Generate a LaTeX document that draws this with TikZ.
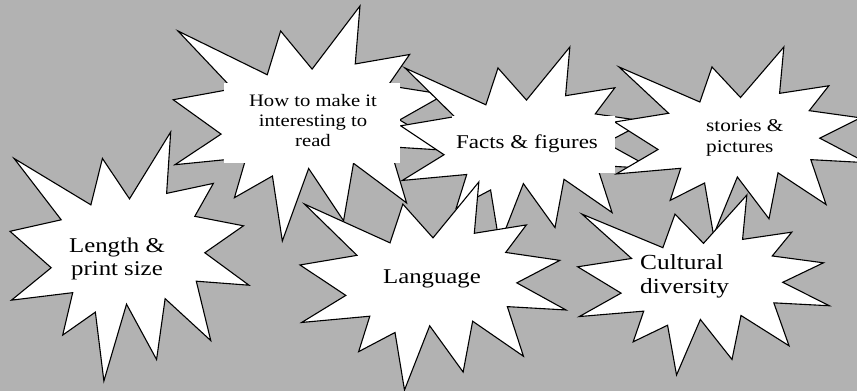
\documentclass[tikz,border=0pt]{standalone}
\usepackage{fontspec}
\setmainfont{Liberation Serif}
\usepackage{graphicx}
\definecolor{bggray}{RGB}{178,178,178}
\tikzset{
  sealstyle/.style={fill=white,draw=black,line width=1.1pt,line join=miter},
  lbl/.style={inner sep=0pt,text=black}
}
\newcommand\sealshape[4]{%
  \begin{scope}[shift={(#1,#2)},xscale=#3/100,yscale=#4/100]
    \draw[sealstyle] (50,26.852) -- (67.231,0) -- (65.532,24.653) -- (85.093,20.634)
      -- (77.324,33.866) -- (97.671,37.671) -- (81.514,48.495) -- (100,61.528)
      -- (77.949,59.917) -- (84.005,83.773) -- (64.907,66.931) -- (61.329,91.375)
      -- (48.759,69.144) -- (39.282,100) -- (35.718,72.347) -- (22.046,81.560)
      -- (26.236,64.523) -- (0.625,67.532) -- (17.231,54.514) -- (0,39.884)
      -- (21.421,35.264) -- (1.713,10.625) -- (33.852,29.259) -- (38.667,10.625) -- cycle;
  \end{scope}}
\newcommand\stretched[3]{{\fontsize{#1}{#2}\selectfont\scalebox{1.18}[1]{#3}}}
\begin{document}
\begin{tikzpicture}[x=1pt,y=-1pt]
  \useasboundingbox (0,0) rectangle (857,391);
  \fill[bggray] (0,0) rectangle (857,391);
  \clip (0,0) rectangle (857,391);
  % explosions
  \sealshape{173.2}{6}{277.8}{235}      % how to make it
  \sealshape{400.7}{47}{251.6}{197.6}   % facts
  \sealshape{614.7}{47}{251.6}{188}     % stories
  \sealshape{10}{132}{239}{249}         % length
  \sealshape{300}{182}{266}{208}        % language
  \sealshape{577.7}{195}{251.6}{180}    % cultural
  % text boxes
  \fill[white] (224,83) rectangle (400,163);
  \fill[white] (452,116) rectangle (615,173);
  % labels
  \node[lbl] (howto) at (313,122) {\stretched{17.5}{20}{\begin{tabular}{@{}c@{}}How to make it\\interesting to\\read\end{tabular}}};
  \node[lbl,anchor=base] (facts) at (527,148) {\stretched{19.5}{22}{Facts \& figures}};
  \node[lbl,anchor=west] (stories) at (706,137.3) {\stretched{18}{21}{\begin{tabular}{@{}l@{}}stories \&\\pictures\end{tabular}}};
  \node[lbl] (length) at (117,258.9) {\stretched{21}{23}{\begin{tabular}{@{}c@{}}Length \&\\print size\end{tabular}}};
  \node[lbl,anchor=base] (language) at (432,283) {\stretched{21}{24}{Language}};
  \node[lbl,anchor=west] (cultural) at (640,276.2) {\stretched{21.5}{24}{\begin{tabular}{@{}l@{}}Cultural\\diversity\end{tabular}}};
\end{tikzpicture}
\end{document}
